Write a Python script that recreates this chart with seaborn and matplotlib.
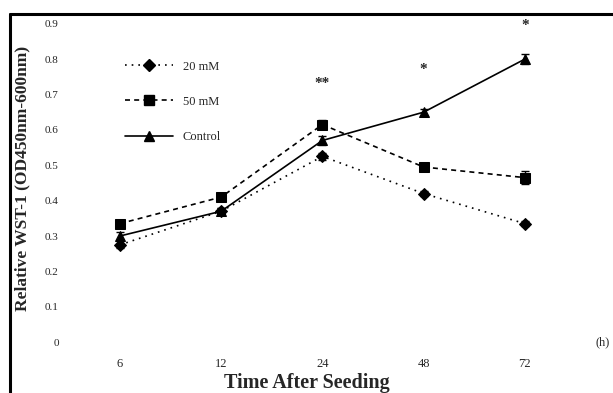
import matplotlib
matplotlib.use("Agg")
import matplotlib.pyplot as plt
import seaborn as sns
import pandas as pd
from matplotlib.lines import Line2D

times = ["6", "12", "24", "48", "72"]
series_names = ["20 mM", "50 mM", "Control"]
v20 = [0.275, 0.37, 0.525, 0.42, 0.335]
v50 = [0.335, 0.41, 0.615, 0.495, 0.465]
vctrl = [0.30, 0.37, 0.57, 0.65, 0.80]
e20 = [0.01, 0.008, 0.01, 0.008, 0.008]
e50 = [0.01, 0.008, 0.012, 0.01, 0.018]
ectrl = [0.01, 0.008, 0.012, 0.01, 0.015]
sig_times = ["24", "48", "72"]
sig_labels = ["**", "*", "*"]
sig_y = [0.73, 0.77, 0.895]
yticks = [0, 0.1, 0.2, 0.3, 0.4, 0.5, 0.6, 0.7, 0.8, 0.9]
ytick_labels = ["0", "0.1", "0.2", "0.3", "0.4", "0.5", "0.6", "0.7", "0.8", "0.9"]

sns.set_theme(style="white")
plt.rcParams["font.family"] = ["Liberation Serif", "DejaVu Serif"]

rows = []
for name, vals in zip(series_names, [v20, v50, vctrl]):
    for i, (t, v) in enumerate(zip(times, vals)):
        rows.append({"idx": i, "time": t, "value": v, "series": name})
df = pd.DataFrame(rows)

fig = plt.figure(figsize=(6.13, 3.93), dpi=100)
ax = fig.add_axes([0.114, 0.109, 0.848, 0.855])

markers = {"20 mM": "D", "50 mM": "s", "Control": "^"}
dashes = {"20 mM": (1, 3), "50 mM": (3, 2.5), "Control": ""}
palette = {n: "black" for n in series_names}
sns.lineplot(data=df, x="idx", y="value", hue="series", style="series",
             markers=markers, dashes=dashes, palette=palette, ax=ax,
             markersize=6.5, linewidth=1.2, markeredgecolor="black", legend=False)

for vals, errs in zip([v20, v50, vctrl], [e20, e50, ectrl]):
    ax.errorbar(range(len(times)), vals, yerr=errs, fmt="none", ecolor="black",
                elinewidth=1, capsize=3)

for t, lab, y in zip(sig_times, sig_labels, sig_y):
    ax.text(times.index(t), y, lab, ha="center", va="center", fontsize=11,
            fontweight="bold")

ax.set_xlim(-0.494, 4.64)
ax.set_ylim(-0.0226, 0.927)
ax.set_xticks(range(len(times)))
ax.set_xticklabels(times, fontsize=9)
ax.set_yticks(yticks)
ax.set_yticklabels(ytick_labels, fontsize=8)
ax.tick_params(axis="both", length=0, pad=6)
ax.tick_params(axis="y", pad=8)
for s in ax.spines.values():
    s.set_visible(False)
ax.set_xlabel("")
ax.set_ylabel("")
fig.text(0.501, 0.025, "Time After Seeding", ha="center", va="center",
         fontsize=14.5, fontweight="bold")
fig.text(0.036, 0.545, "Relative WST-1 (OD450nm-600nm)", rotation=90,
         ha="center", va="center", fontsize=12.5, fontweight="bold")
ax.text(4.7, 0.0, "(h)", ha="left", va="center", fontsize=9, clip_on=False)

handles = [Line2D([0], [0], color="black", marker=markers[n], markersize=6.5,
                  linestyle=(0, dashes[n]) if dashes[n] else "-", linewidth=1.2)
           for n in series_names]
ax.legend(handles, series_names, loc="upper left", bbox_to_anchor=(0.085, 0.895),
          frameon=False, fontsize=9, handlelength=3.8, labelspacing=1.85)

# scan-like frame on left and top
fig.add_artist(Line2D([0.016, 0.016], [0.0, 0.965], transform=fig.transFigure,
                      color="black", linewidth=2.2))
fig.add_artist(Line2D([0.016, 1.0], [0.965, 0.965], transform=fig.transFigure,
                      color="black", linewidth=2.2))

fig.savefig("out.png", dpi=100, facecolor="white")
